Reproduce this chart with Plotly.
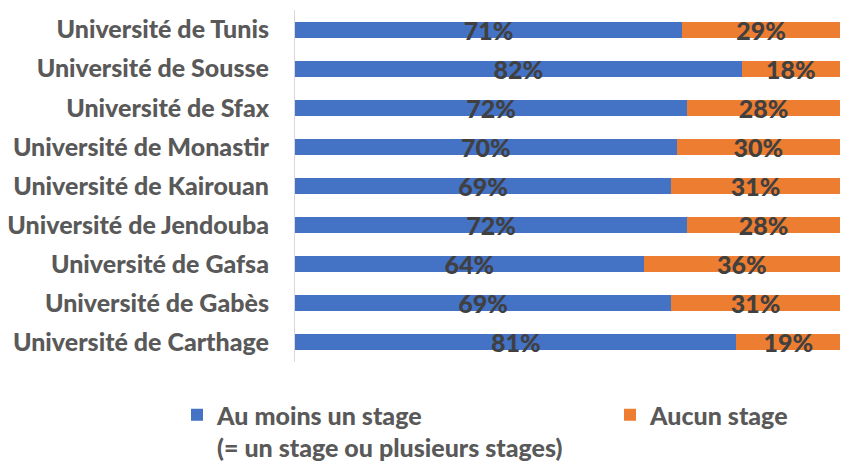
import plotly.graph_objects as go

categories = ["Université de Tunis", "Université de Sousse", "Université de Sfax",
              "Université de Monastir", "Université de Kairouan", "Université de Jendouba",
              "Université de Gafsa", "Université de Gabès", "Université de Carthage"]
au_moins_un = [71, 82, 72, 70, 69, 72, 64, 69, 81]
aucun = [29, 18, 28, 30, 31, 28, 36, 31, 19]
series_names = ["Au moins un stage<br>(= un stage ou plusieurs stages)", "Aucun stage"]

W, H = 841, 463
fig = go.Figure()
for name, vals, color, lg in [(series_names[0], au_moins_un, "#4472C4", "legend"),
                              (series_names[1], aucun, "#ED7D31", "legend2")]:
    fig.add_trace(go.Bar(
        y=categories, x=vals, name=name, orientation="h", legend=lg,
        marker=dict(color=color, line=dict(width=0)),
        texttemplate="%{x}%", textposition="inside", insidetextanchor="middle",
        constraintext="none",
        textfont=dict(family="Lato", size=25, color="#404040", weight=900),
        hoverinfo="skip",
    ))

legfont = dict(family="Lato", size=25, color="#595959", weight=900)
fig.update_layout(
    width=W, height=H, barmode="stack", bargap=0.59,
    margin=dict(l=295, r=1, t=10, b=101, autoexpand=False),
    plot_bgcolor="white", paper_bgcolor="white",
    font=dict(family="Lato", color="#595959"),
    showlegend=True,
    legend=dict(xref="container", yref="container",
                x=177 / W, y=1 - 392 / H, xanchor="left", yanchor="top",
                valign="top", font=legfont, bgcolor="rgba(0,0,0,0)"),
    legend2=dict(xref="container", yref="container",
                 x=610 / W, y=1 - 392 / H, xanchor="left", yanchor="top",
                 valign="top", font=legfont, bgcolor="rgba(0,0,0,0)"),
)
fig.update_xaxes(range=[0, 100], visible=False, fixedrange=True)
fig.update_yaxes(autorange="reversed", showline=True, linecolor="#D9D9D9", linewidth=1,
                 ticks="", showgrid=False, ticklabelstandoff=20, fixedrange=True,
                 tickfont=dict(family="Lato", size=25, color="#595959", weight=900))

fig.write_html("out.html", config={"displayModeBar": False},
               post_script="document.body.style.margin='0';document.body.style.overflow='hidden';")
